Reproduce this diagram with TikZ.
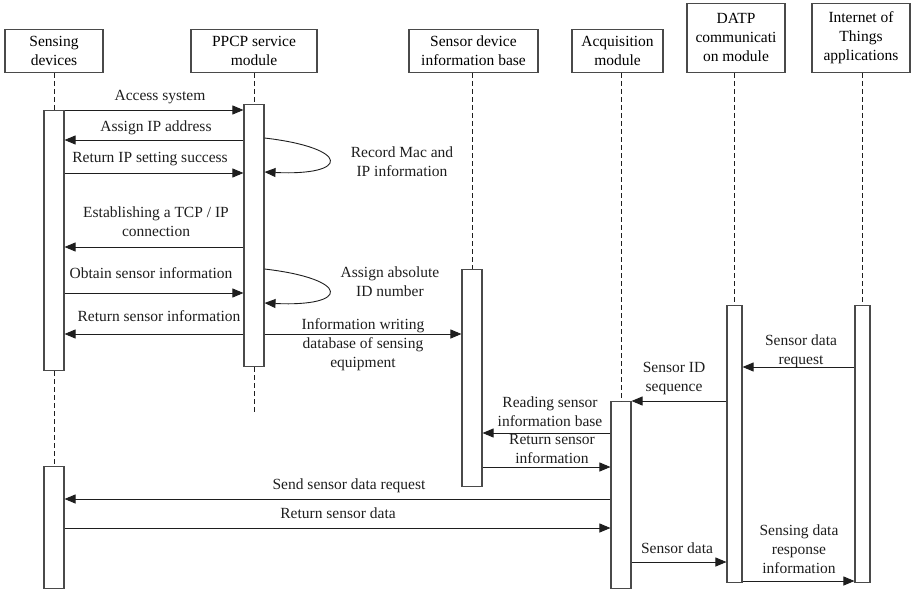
\documentclass[tikz,border=0pt]{standalone}
\usepackage{fontspec}
\setmainfont{Liberation Serif}
\usetikzlibrary{arrows.meta,positioning}
\definecolor{ink}{HTML}{1E1E1E}
\definecolor{frame}{HTML}{4A4A4A}
\tikzset{
  every node/.style={font=\fontsize{15.5}{19}\selectfont},
  head/.style={draw=frame,line width=1.1pt,align=center,inner sep=0pt,anchor=south},
  bar/.style={draw=frame,line width=1.1pt,fill=white,inner sep=0pt,anchor=north},
  life/.style={draw=ink,line width=.8pt,dash pattern=on 5pt off 3pt},
  msg/.style={draw=ink,line width=.9pt,-{Triangle[length=11pt,width=9pt]}},
  lbl/.style={align=center,inner sep=0pt,text=ink}}

\begin{document}
\begin{tikzpicture}[x=1pt,y=-1pt]
\useasboundingbox (0,0) rectangle (912,591);
% participants
\foreach \nm/\cx/\w/\h/\txt in {sd/54/98/43/{Sensing\\devices},
  pp/254/126/43/{PPCP service\\module},
  sb/473.5/129/43/{Sensor device\\information base},
  ac/617.5/91/43/{Acquisition\\module},
  dt/736/98/69/{DATP\\communicati\\on module},
  it/861/98/69/{Internet of\\Things\\applications}}
  \node[head,minimum width=\w,minimum height=\h] (\nm) at (\cx,73) {\txt};

% activation bars
\node[bar,minimum width=20,minimum height=260] (sdA) at (54,110) {};
\node[bar,minimum width=20,minimum height=122] (sdB) at (54,466) {};
\node[bar,minimum width=20,minimum height=262] (ppA) at (254,104) {};
\node[bar,minimum width=20,minimum height=217] (sbA) at (472,269) {};
\node[bar,minimum width=20,minimum height=187] (acA) at (621,401) {};
\node[bar,minimum width=15,minimum height=277] (dtA) at (734.5,305) {};
\node[bar,minimum width=15,minimum height=277] (itA) at (862.5,305) {};

% lifelines
\coordinate (ppEnd) at (254,415);
\draw[life] (sdA.north |- sd.south) -- (sdA.north);
\draw[life] (sdA.south) -- (sdB.north);
\draw[life] (ppA.north |- pp.south) -- (ppA.north);
\draw[life] (ppA.south) -- (ppEnd);
\draw[life] (sbA.north |- sb.south) -- (sbA.north);
\draw[life] (acA.north |- ac.south) -- (acA.north);
\draw[life] (dtA.north |- dt.south) -- (dtA.north);
\draw[life] (itA.north |- it.south) -- (itA.north);

% messages
\foreach \i/\a/\b/\y in {1/sdA.east/ppA.west/110, 2/ppA.west/sdA.east/140,
  3/sdA.east/ppA.west/173, 4/ppA.west/sdA.east/247,
  5/sdA.east/ppA.west/293, 6/ppA.west/sdA.east/334,
  7/ppA.east/sbA.west/334, 8/itA.west/dtA.east/367,
  9/dtA.west/acA.east/401, 10/acA.west/sbA.east/433,
  11/sbA.east/acA.west/467, 12/acA.west/sdB.east/499,
  13/sdB.east/acA.west/528, 14/acA.east/dtA.west/562,
  15/dtA.east/itA.west/581}{
  \coordinate (m\i) at (0,\y);
  \draw[msg] (\a |- m\i) -- (\b |- m\i);}

% self calls on the PPCP module
\coordinate (s1) at (0,138);
\coordinate (e1) at (0,172);
\coordinate (s2) at (0,269);
\coordinate (e2) at (0,303);
\draw[msg] (ppA.east |- s1) .. controls +(86,10) and +(86,4) .. (ppA.east |- e1);
\draw[msg] (ppA.east |- s2) .. controls +(86,10) and +(86,4) .. (ppA.east |- e2);

% labels
\foreach \i/\x/\y/\t in {1/160/97/{Access system},
  2/156/128/{Assign IP address},
  3/150/159/{Return IP setting success},
  4/402/162/{Record Mac and\\IP information},
  5/156/222/{Establishing a TCP / IP\\connection},
  6/151/273/{Obtain sensor information},
  7/390/282/{Assign absolute\\ID number},
  8/159/316/{Return sensor information},
  9/363/345/{Information writing\\database of sensing\\equipment},
  10/801/351/{Sensor data\\request},
  11/674/379/{Sensor ID\\sequence},
  12/550/412/{Reading sensor\\information base},
  13/552/449/{Return sensor\\information},
  14/349/486/{Send sensor data request},
  15/338/513/{Return sensor data},
  16/677/548/{Sensor data},
  17/799/549/{Sensing data\\response\\information}}
  \node[lbl] (l\i) at (\x,\y) {\t};
\end{tikzpicture}
\end{document}
